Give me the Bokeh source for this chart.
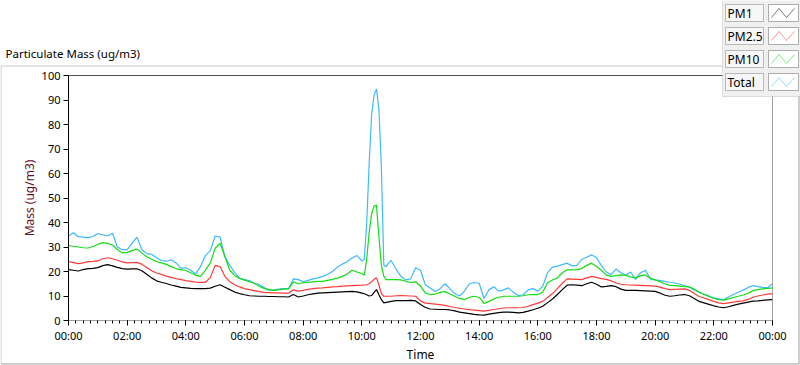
from bokeh.plotting import figure
from bokeh.models import Range1d, FixedTicker, Span, BoxAnnotation, PolyAnnotation, Label
from bokeh.embed import file_html
from bokeh.resources import INLINE

# time stamps (minutes since midnight)
minutes = list(range(0, 600, 10)) + list(range(600, 660, 5)) + list(range(660, 1441, 10))

pm1 = [20.8, 20.5, 20.2, 20.8, 21.2, 21.3, 21.6, 22.4, 22.8, 22.3,
       21.7, 21.2, 21.0, 21.1, 21.1, 20.3, 18.9, 17.4, 16.2, 15.6,
       15.1, 14.5, 14.0, 13.5, 13.3, 13.1, 13.0, 13.0, 13.0, 13.2,
       14.0, 14.6, 13.6, 12.6, 11.6, 11.0, 10.5, 10.1, 10.0, 9.9,
       9.9, 9.8, 9.8, 9.7, 9.7, 9.6, 10.6, 9.6, 10.0, 10.5,
       10.9, 11.2, 11.3, 11.4, 11.5, 11.6, 11.7, 11.8, 11.9, 11.7,
       11.2, 10.9, 10.5, 10.0, 10.2, 11.5, 12.6, 10.5, 8.5, 7.2, 7.4, 7.6,
       7.8, 8.1, 8.1, 8.1, 8.2, 8.0, 6.5, 5.3, 4.7, 4.6,
       4.5, 4.5, 4.3, 3.9, 3.4, 3.1, 2.8, 2.5, 2.3, 2.2,
       2.6, 2.9, 3.2, 3.4, 3.4, 3.3, 3.1, 3.3, 3.8, 4.4,
       5.0, 5.8, 7.3, 8.8, 10.6, 12.6, 14.4, 14.6, 14.4, 14.2,
       15.0, 15.6, 14.8, 13.7, 13.9, 14.2, 13.8, 12.8, 12.3, 12.3,
       12.3, 12.2, 12.1, 12.0, 11.9, 11.2, 10.3, 9.9, 10.1, 10.4,
       10.6, 10.1, 9.0, 7.8, 7.2, 6.6, 6.0, 5.5, 5.2, 5.6,
       6.2, 6.7, 7.1, 7.5, 7.9, 8.0, 8.2, 8.4, 8.5]

pm25 = [24.0, 23.6, 23.2, 23.5, 24.0, 24.1, 24.3, 25.2, 25.6, 25.2,
        24.6, 23.9, 23.5, 23.6, 23.7, 23.0, 21.6, 20.3, 19.4, 18.8,
        18.1, 17.6, 17.1, 16.7, 16.3, 16.0, 15.7, 15.6, 15.6, 17.5,
        22.5, 22.0, 18.0, 15.8, 14.6, 13.7, 13.0, 12.6, 12.2, 11.8,
        11.5, 11.4, 11.3, 11.3, 11.2, 11.2, 12.5, 12.0, 12.3, 12.7,
        13.0, 13.2, 13.3, 13.5, 13.7, 13.8, 14.0, 14.1, 14.2, 14.3,
        14.4, 14.5, 14.6, 15.0, 15.8, 16.8, 17.4, 14.5, 11.0, 9.9, 9.9, 9.9,
        9.9, 10.1, 10.2, 10.1, 10.0, 9.9, 8.0, 7.1, 6.9, 6.7,
        6.5, 6.2, 5.7, 5.3, 5.0, 4.7, 4.4, 4.2, 4.0, 3.8,
        4.1, 4.5, 4.8, 5.1, 5.2, 5.2, 5.2, 5.3, 5.8, 6.5,
        7.1, 7.8, 9.4, 11.0, 13.0, 15.2, 17.0, 16.9, 16.8, 16.7,
        17.4, 18.0, 17.6, 17.1, 16.8, 16.2, 15.3, 14.8, 14.6, 14.5,
        14.4, 14.3, 14.2, 14.1, 14.0, 13.6, 13.0, 12.6, 12.7, 12.8,
        12.9, 12.3, 11.0, 9.8, 9.2, 8.5, 7.8, 7.2, 6.9, 7.2,
        7.5, 7.8, 8.0, 8.6, 9.5, 10.0, 10.4, 10.8, 11.0]

pm10 = [30.6, 30.3, 30.0, 29.7, 29.6, 30.2, 31.0, 31.8, 31.5, 30.8,
        29.0, 27.6, 27.8, 28.5, 29.2, 27.5, 26.0, 25.0, 24.1, 23.5,
        22.9, 22.0, 21.2, 20.8, 20.4, 19.5, 18.5, 18.0, 20.5, 23.5,
        29.5, 31.5, 26.0, 20.5, 18.3, 17.2, 16.5, 15.8, 15.2, 14.0,
        13.1, 12.6, 12.3, 12.5, 12.9, 12.9, 15.8, 15.0, 15.4, 15.6,
        15.8, 16.0, 16.0, 16.4, 16.8, 17.3, 18.0, 19.0, 20.5, 19.8,
        19.2, 18.5, 25.0, 36.0, 43.5, 46.8, 47.0, 34.0, 22.5, 18.0, 16.7, 16.7,
        16.7, 16.7, 16.6, 16.0, 15.5, 15.8, 14.0, 11.2, 10.6, 10.8,
        11.5, 11.8, 10.8, 9.9, 9.0, 8.5, 9.5, 9.9, 9.4, 7.0,
        7.8, 8.8, 9.5, 9.9, 9.9, 9.9, 9.9, 10.1, 10.5, 10.6,
        10.6, 11.5, 15.5, 16.5, 17.4, 19.5, 20.7, 20.7, 20.8, 21.2,
        22.5, 23.4, 22.0, 20.5, 18.6, 18.0, 18.3, 18.6, 18.4, 17.8,
        17.4, 18.2, 18.6, 17.2, 16.6, 15.8, 15.0, 14.3, 14.2, 14.0,
        13.8, 13.7, 12.8, 11.5, 10.6, 9.8, 9.0, 8.5, 8.3, 8.8,
        9.4, 9.9, 10.4, 11.1, 12.2, 12.6, 12.9, 13.1, 13.3]

total = [34.5, 35.8, 34.2, 34.0, 33.8, 34.3, 35.5, 35.0, 34.5, 35.6,
         30.0, 28.9, 28.9, 31.5, 34.0, 29.0, 27.3, 27.0, 25.6, 24.5,
         24.2, 24.8, 23.5, 21.4, 21.5, 20.5, 19.0, 22.0, 26.5, 28.5,
         34.5, 34.0, 26.0, 22.5, 19.5, 17.2, 16.7, 16.3, 15.2, 14.7,
         13.5, 12.3, 12.5, 12.8, 13.0, 12.9, 17.0, 16.7, 15.8, 16.4,
         17.0, 17.4, 18.0, 18.9, 20.0, 21.8, 23.0, 24.0, 25.5, 26.5,
         24.3, 25.0, 40.0, 64.0, 84.0, 92.0, 94.5, 86.0, 62.0, 22.5, 22.0, 23.5,
         24.5, 21.0, 18.0, 16.6, 17.0, 21.5, 20.5, 14.5, 13.3, 11.8,
         13.0, 15.0, 13.0, 11.0, 10.0, 12.0, 15.0, 15.5, 15.2, 9.0,
         12.5, 13.8, 12.0, 12.5, 13.3, 11.5, 10.2, 10.5, 12.5, 13.0,
         12.0, 14.0, 19.5, 21.8, 22.2, 22.8, 23.4, 22.3, 22.5, 25.0,
         25.8, 26.8, 25.6, 22.5, 19.8, 18.7, 21.0, 19.5, 18.5, 19.8,
         16.8, 19.5, 20.5, 17.0, 16.6, 16.3, 16.0, 15.6, 15.3, 14.8,
         14.3, 13.6, 12.5, 11.5, 10.8, 10.0, 9.2, 8.8, 8.5, 9.6,
         10.6, 11.5, 12.4, 13.5, 14.2, 13.8, 13.5, 13.4, 15.0]

series_names = ["PM1", "PM2.5", "PM10", "Total"]
series_values = [pm1, pm25, pm10, total]
series_colors = ["#000000", "#ff3a3a", "#12dd12", "#3cb9ff"]

x_tick_hours = [0, 2, 4, 6, 8, 10, 12, 14, 16, 18, 20, 22, 24]
x_tick_labels = ["00:00", "02:00", "04:00", "06:00", "08:00", "10:00", "12:00",
                 "14:00", "16:00", "18:00", "20:00", "22:00", "00:00"]
y_ticks = [0, 10, 20, 30, 40, 50, 60, 70, 80, 90, 100]

title_text = "Particulate Mass (ug/m3)"
x_label = "Time"
y_label = "Mass (ug/m3)"

FONT = "Noto Sans"
W, H = 800, 365
hours = [m / 60 for m in minutes]
PIN = {"position": "absolute", "top": "0px", "left": "0px"}

# ---------------- main plot ----------------
p = figure(width=W, height=H, x_range=Range1d(0, 24), y_range=Range1d(0, 100),
           output_backend="svg", toolbar_location=None,
           min_border_left=68, min_border_right=28, min_border_top=75, min_border_bottom=44,
           background_fill_color="white", border_fill_color="white",
           outline_line_color="#a0a0a0", styles=PIN)
p.grid.visible = False

for idx in [3, 2, 1, 0]:
    p.line(hours, series_values[idx], line_color=series_colors[idx], line_width=1.2)

xa = p.xaxis[0]
xa.ticker = FixedTicker(ticks=x_tick_hours, minor_ticks=[q / 4 for q in range(97)])
xa.major_label_overrides = {h: lab for h, lab in zip(x_tick_hours, x_tick_labels)}
xa.axis_line_color = "#a0a0a0"
xa.major_tick_line_color = "black"
xa.minor_tick_line_color = "black"
xa.major_tick_in = 0
xa.major_tick_out = 5
xa.minor_tick_in = 0
xa.minor_tick_out = 3
xa.major_label_standoff = 2
xa.major_label_text_font = FONT
xa.major_label_text_font_size = "11px"
xa.major_label_text_color = "black"
xa.axis_label = x_label
xa.axis_label_text_font = FONT
xa.axis_label_text_font_size = "12px"
xa.axis_label_text_font_style = "normal"
xa.axis_label_text_color = "black"
xa.axis_label_standoff = 0

ya = p.yaxis[0]
ya.ticker = FixedTicker(ticks=y_ticks, minor_ticks=[])
ya.axis_line_color = "black"
ya.major_tick_line_color = "black"
ya.minor_tick_line_color = None
ya.major_tick_in = 0
ya.major_tick_out = 5
ya.major_label_standoff = 3
ya.major_label_text_font = FONT
ya.major_label_text_font_size = "11px"
ya.major_label_text_color = "black"
ya.axis_label = y_label
ya.axis_label_text_font = FONT
ya.axis_label_text_font_size = "12px"
ya.axis_label_text_font_style = "normal"
ya.axis_label_text_color = "#6b1024"
ya.axis_label_standoff = 1

p.add_layout(Span(location=100, dimension="width", line_color="black", line_width=1))

# ---------------- overlay: title, outer frame, legend ----------------
ov = figure(width=W, height=H, x_range=Range1d(0, W), y_range=Range1d(H, 0),
            x_axis_type=None, y_axis_type=None, output_backend="svg", toolbar_location=None,
            min_border=0, min_border_left=0, min_border_right=0, min_border_top=0,
            min_border_bottom=0, outline_line_color=None,
            background_fill_alpha=0, border_fill_alpha=0, styles=PIN)


def cbox(l, r, t, b, **kw):
    return BoxAnnotation(left=l, right=r, top=t, bottom=b,
                         left_units="canvas", right_units="canvas",
                         top_units="canvas", bottom_units="canvas", **kw)


def cpath(xs, ys, **kw):
    # open polyline drawn as a retraced polygon
    return PolyAnnotation(xs=xs + xs[-2:0:-1], ys=ys + ys[-2:0:-1],
                          xs_units="canvas", ys_units="canvas", fill_alpha=0, **kw)


ov.add_layout(cpath([0.5, 0.5, 798.5], [363.5, 65.5, 65.5], line_color="#a0a0a0", line_width=1))
ov.add_layout(cpath([0.5, 798.5, 798.5], [363.5, 363.5, 65.5], line_color="#505050", line_width=1))

ov.add_layout(Label(x=5, y=53, x_units="canvas", y_units="canvas", text=title_text,
                    text_font=FONT, text_font_size="11.5px", text_color="black",
                    text_baseline="middle"))

ov.add_layout(cbox(722, 801, -1, 96, fill_color="#f0f0f0", fill_alpha=1,
                   line_color="#a0a0a0", line_width=1))
for k, name in enumerate(series_names):
    top = 4 + 23 * k
    ov.add_layout(cbox(725, 763, top, top + 17, fill_color="#f7f7f7", fill_alpha=1,
                       line_color="#303030", line_width=1))
    ov.add_layout(cbox(768, 798, top, top + 17, fill_color="white", fill_alpha=1,
                       line_color="black", line_width=1))
    ov.add_layout(PolyAnnotation(xs=[771, 778.5, 786, 794, 786, 778.5],
                                 ys=[top + 13, top + 4, top + 13, top + 4, top + 13, top + 4],
                                 xs_units="canvas", ys_units="canvas",
                                 fill_alpha=0, line_color=series_colors[k], line_width=1))
    ov.add_layout(Label(x=727, y=top + 8.5, x_units="canvas", y_units="canvas", text=name,
                        text_font=FONT, text_font_size="12px", text_color="black",
                        text_baseline="middle"))

open("out.html", "w").write(file_html([p, ov], INLINE))
